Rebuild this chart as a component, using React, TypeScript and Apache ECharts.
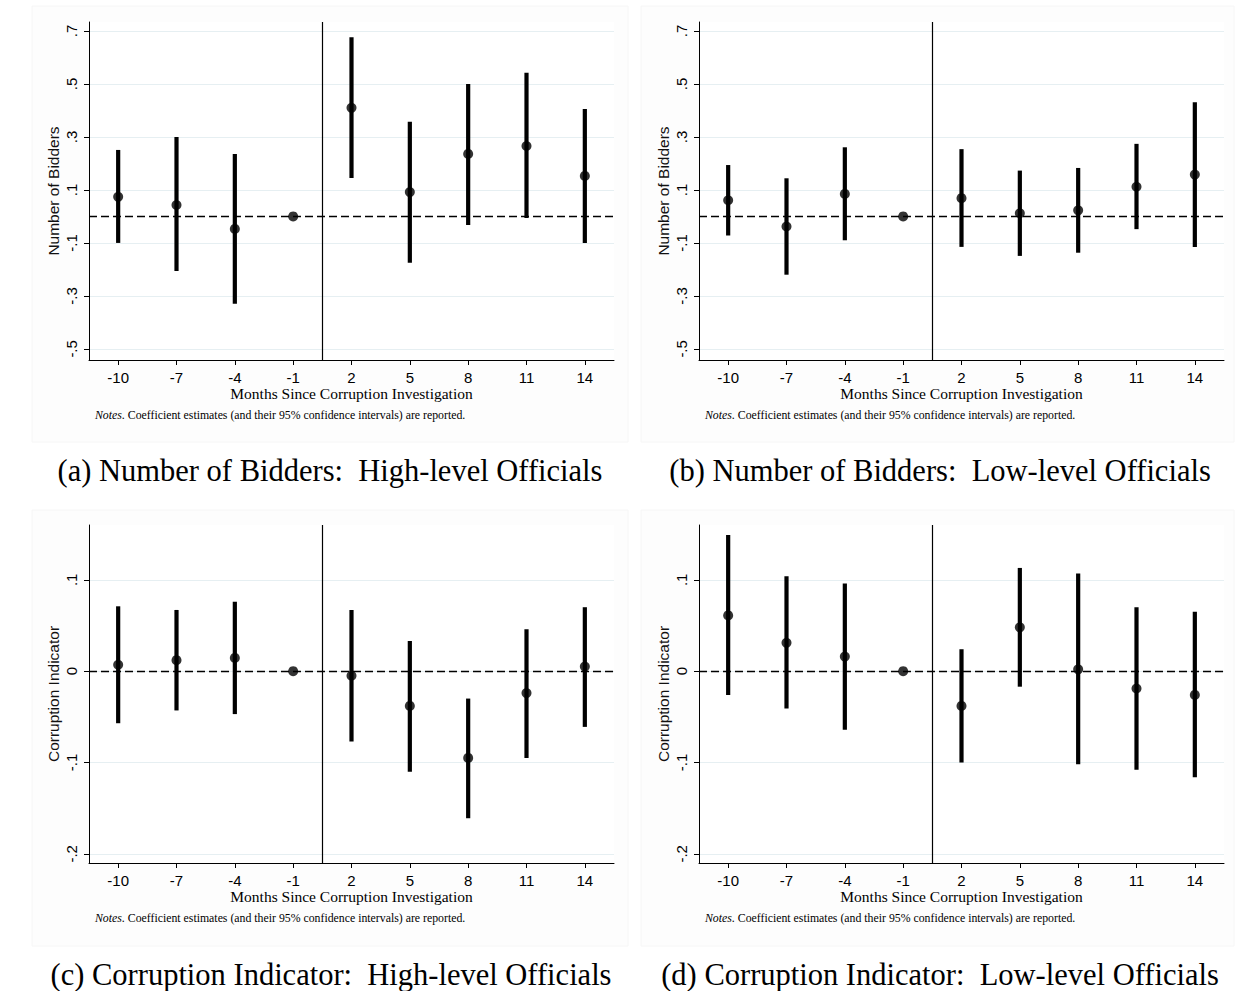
import React, { useEffect, useRef } from "react";
import * as echarts from "echarts";

// ---- Data ----
const months = [-10, -7, -4, -1, 2, 5, 8, 11, 14];
const treatmentBoundary = 0.5; // between -1 and 2

const bidHighEst = [0.074, 0.043, -0.047, 0, 0.41, 0.092, 0.236, 0.266, 0.153];
const bidHighLo = [-0.1, -0.206, -0.33, 0, 0.145, -0.175, -0.032, -0.006, -0.1];
const bidHighHi = [0.251, 0.3, 0.236, 0, 0.676, 0.357, 0.5, 0.542, 0.406];

const bidLowEst = [0.061, -0.038, 0.085, 0, 0.069, 0.012, 0.023, 0.112, 0.158];
const bidLowLo = [-0.072, -0.22, -0.09, 0, -0.115, -0.149, -0.137, -0.048, -0.115];
const bidLowHi = [0.194, 0.144, 0.261, 0, 0.254, 0.173, 0.183, 0.274, 0.431];

const corHighEst = [0.007, 0.012, 0.0145, 0, -0.005, -0.038, -0.095, -0.024, 0.005];
const corHighLo = [-0.057, -0.043, -0.047, 0, -0.077, -0.11, -0.161, -0.095, -0.061];
const corHighHi = [0.071, 0.067, 0.076, 0, 0.067, 0.033, -0.03, 0.046, 0.07];

const corLowEst = [0.061, 0.031, 0.016, 0, -0.038, 0.048, 0.002, -0.019, -0.026];
const corLowLo = [-0.026, -0.041, -0.064, 0, -0.1, -0.017, -0.102, -0.108, -0.116];
const corLowHi = [0.149, 0.104, 0.096, 0, 0.024, 0.113, 0.107, 0.07, 0.065];

const bidTicks = [-0.5, -0.3, -0.1, 0.1, 0.3, 0.5, 0.7];
const corTicks = [-0.2, -0.1, 0, 0.1];
const bidRange = [-0.542, 0.734];
const corRange = [-0.21, 0.16];

const xTitle = "Months Since Corruption Investigation";
const noteRest = ". Coefficient estimates (and their 95% confidence intervals) are reported.";

const panels = [
  { est: bidHighEst, lo: bidHighLo, hi: bidHighHi, ticks: bidTicks, range: bidRange, yName: "Number of Bidders", caption: "(a) Number of Bidders:  High-level Officials" },
  { est: bidLowEst, lo: bidLowLo, hi: bidLowHi, ticks: bidTicks, range: bidRange, yName: "Number of Bidders", caption: "(b) Number of Bidders:  Low-level Officials" },
  { est: corHighEst, lo: corHighLo, hi: corHighHi, ticks: corTicks, range: corRange, yName: "Corruption Indicator", caption: "(c) Corruption Indicator:  High-level Officials" },
  { est: corLowEst, lo: corLowLo, hi: corLowHi, ticks: corTicks, range: corRange, yName: "Corruption Indicator", caption: "(d) Corruption Indicator:  Low-level Officials" },
];

// layout
const gridPos = [
  { left: 89, top: 22 },
  { left: 699, top: 22 },
  { left: 89, top: 525 },
  { left: 699, top: 525 },
];
const gridW = 525;
const gridH = 338;
const boxPos = [
  { x: 32, y: 6, w: 596, h: 436, cx: 330, cy: 471 },
  { x: 641, y: 6, w: 593, h: 436, cx: 940, cy: 471 },
  { x: 32, y: 510, w: 596, h: 436, cx: 331, cy: 975 },
  { x: 641, y: 510, w: 593, h: 436, cx: 940, cy: 975 },
];

const fmtY = (v: number) => {
  if (Math.abs(v) < 1e-9) return "0";
  const s = Math.abs(v).toFixed(1).replace(/^0/, "");
  return (v < 0 ? "-" : "") + s;
};

export default function App() {
  const ref = useRef<HTMLDivElement>(null);
  useEffect(() => {
    if (!ref.current) return;
    const chart = echarts.init(ref.current, null, { renderer: "svg" });

    const grids: any[] = [];
    const xAxes: any[] = [];
    const yAxes: any[] = [];
    const series: any[] = [];
    const graphics: any[] = [];

    panels.forEach((p, i) => {
      grids.push({ left: gridPos[i].left, top: gridPos[i].top, width: gridW, height: gridH, containLabel: false });
      xAxes.push({
        type: "value",
        gridIndex: i,
        min: -11.5,
        max: 15.5,
        axisLine: { show: true, onZero: false, lineStyle: { color: "#000", width: 1 } },
        axisTick: { show: true, customValues: months, length: 5, lineStyle: { color: "#000", width: 1 } },
        axisLabel: { customValues: months, fontFamily: "Liberation Sans", fontSize: 15, color: "#000", margin: 10 },
        splitLine: { show: false },
        name: xTitle,
        nameLocation: "middle",
        nameGap: 25,
        nameTextStyle: { fontFamily: "Liberation Serif", fontSize: 15.5, color: "#000" },
      });
      yAxes.push({
        type: "value",
        gridIndex: i,
        min: p.range[0],
        max: p.range[1],
        axisLine: { show: true, onZero: false, lineStyle: { color: "#000", width: 1 } },
        axisTick: { show: true, customValues: p.ticks, length: 5, lineStyle: { color: "#000", width: 1 } },
        axisLabel: { customValues: p.ticks, rotate: 90, formatter: fmtY, fontFamily: "Liberation Sans", fontSize: 15, color: "#000", margin: 10 },
        splitLine: { show: true, lineStyle: { color: "#e6eff2", width: 1 } },
        name: p.yName,
        nameLocation: "middle",
        nameRotate: 90,
        nameGap: 28,
        nameTextStyle: { fontFamily: "Liberation Sans", fontSize: 15.5, color: "#111" },
      });
      series.push({
        type: "custom",
        xAxisIndex: i,
        yAxisIndex: i,
        data: months.map((m, k) => [m, p.lo[k], p.hi[k]]),
        encode: { x: 0, y: [1, 2] },
        renderItem: (params: any, api: any) => {
          const a = api.coord([api.value(0), api.value(1)]);
          const b = api.coord([api.value(0), api.value(2)]);
          return {
            type: "line",
            shape: { x1: a[0], y1: a[1], x2: b[0], y2: b[1] },
            style: { stroke: "#000", lineWidth: 4.2 },
          };
        },
        z: 3,
        silent: true,
      });
      series.push({
        type: "scatter",
        xAxisIndex: i,
        yAxisIndex: i,
        data: months.map((m, k) => [m, p.est[k]]),
        symbol: "circle",
        symbolSize: 10,
        itemStyle: { color: "#000" },
        z: 4,
        silent: true,
        markLine: {
          silent: true,
          symbol: "none",
          label: { show: false },
          data: [
            { yAxis: 0, lineStyle: { type: [8, 4], color: "#000", width: 1.3 } },
            { xAxis: treatmentBoundary, lineStyle: { type: "solid", color: "#000", width: 1.2 } },
          ],
        },
      });

      const b = boxPos[i];
      graphics.push({
        type: "rect",
        z: -10,
        silent: true,
        shape: { x: b.x, y: b.y, width: b.w, height: b.h },
        style: { fill: "#fdfdfd", stroke: "#f6f6f6", lineWidth: 1 },
      });
      graphics.push({
        type: "rect",
        z: -9,
        silent: true,
        shape: { x: gridPos[i].left, y: gridPos[i].top, width: gridW, height: gridH },
        style: { fill: "#ffffff" },
      });
      graphics.push({
        type: "text",
        silent: true,
        x: gridPos[i].left + 6,
        y: gridPos[i].top + gridH + 55,
        style: {
          text: "{i|Notes}" + noteRest,
          fill: "#000",
          fontFamily: "Liberation Serif",
          fontSize: 11.8,
          verticalAlign: "middle",
          rich: { i: { fontStyle: "italic", fontFamily: "Liberation Serif", fontSize: 11.8, fill: "#000" } },
        },
      });
      graphics.push({
        type: "text",
        silent: true,
        x: b.cx,
        y: b.cy,
        style: {
          text: p.caption,
          fill: "#000",
          fontFamily: "Liberation Serif",
          fontSize: 30.5,
          align: "center",
          verticalAlign: "middle",
        },
      });
    });

    chart.setOption({
      animation: false,
      backgroundColor: "#ffffff",
      grid: grids,
      xAxis: xAxes,
      yAxis: yAxes,
      series,
      graphic: graphics,
    });
    return () => chart.dispose();
  }, []);
  return <div ref={ref} style={{ position: "absolute", left: 0, top: 0, width: 1235, height: 991 }} />;
}
